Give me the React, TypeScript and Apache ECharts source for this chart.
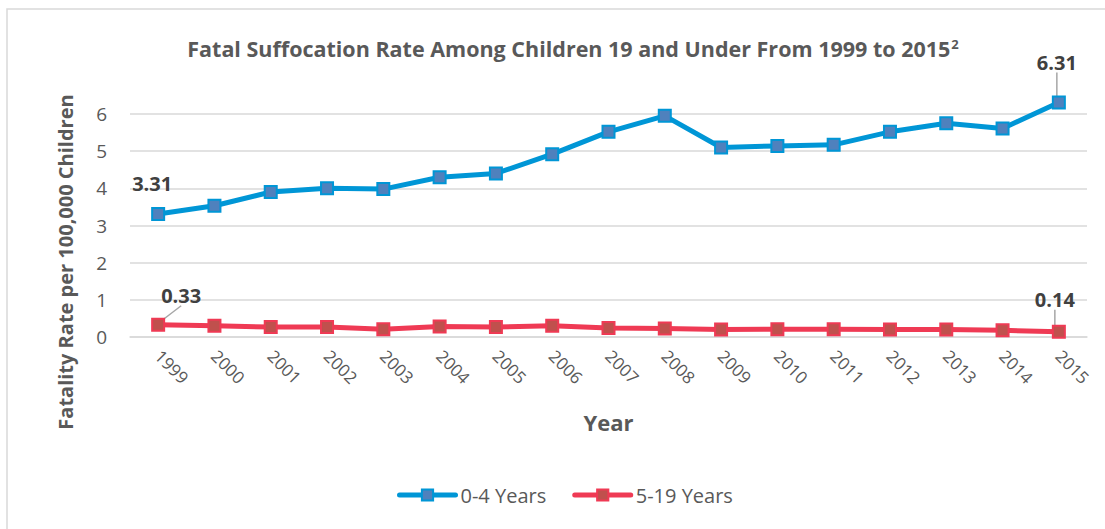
import React, { useEffect, useRef } from "react";
import * as echarts from "echarts";

const years = ["1999","2000","2001","2002","2003","2004","2005","2006","2007","2008","2009","2010","2011","2012","2013","2014","2015"];
const young = [3.31, 3.53, 3.90, 4.00, 3.98, 4.30, 4.40, 4.92, 5.52, 5.95, 5.10, 5.14, 5.17, 5.52, 5.75, 5.61, 6.31];
const older = [0.33, 0.30, 0.27, 0.27, 0.21, 0.28, 0.27, 0.30, 0.24, 0.23, 0.20, 0.21, 0.21, 0.20, 0.20, 0.18, 0.14];
const yTicks = { min: 0, max: 6, interval: 1 };
const seriesNames = ["0-4 Years", "5-19 Years"];
const titleText = "Fatal Suffocation Rate Among Children 19 and Under From 1999 to 2015";

const FONT = "'Open Sans', Lato, sans-serif";

function withEndLabels(vals: number[], hideFirstLine: boolean) {
  return vals.map((v, i) => {
    if (i === 0) return { value: v, label: { show: true }, labelLine: { show: !hideFirstLine } };
    if (i === vals.length - 1) return { value: v, label: { show: true } };
    return { value: v };
  });
}

export default function App() {
  const ref = useRef<HTMLDivElement>(null);
  useEffect(() => {
    if (!ref.current) return;
    const chart = echarts.init(ref.current, null, { renderer: "svg" });
    const moves: Record<string, [number, number]> = {
      "0-0": [-6, -8],
      "0-16": [-2, -18],
      "1-0": [23, -7],
      "1-16": [-4, -10],
    };
    const labelStyle = {
      show: false,
      position: "top",
      distance: 5,
      fontFamily: FONT,
      fontWeight: "bold",
      fontSize: 20,
      color: "#404040",
    };
    chart.setOption({
      animation: false,
      backgroundColor: "#fff",
      title: {
        text: "{t|" + titleText + "}{s|2}",
        left: 568,
        textAlign: "center",
        top: 32,
        textStyle: {
          rich: {
            t: { fontFamily: FONT, fontWeight: "bold", fontSize: 21.5, color: "#595959" },
            s: { fontFamily: FONT, fontWeight: "bold", fontSize: 13, color: "#595959", padding: [0, 0, 10, 1] },
          },
        },
      },
      graphic: [
        {
          type: "rect",
          shape: { x: 7, y: 9, width: 1110, height: 530 },
          style: { fill: "none", stroke: "#D9D9D9", lineWidth: 1.5 },
          silent: true,
          z: -1,
        },
        {
          type: "text",
          x: 65,
          y: 262,
          rotation: Math.PI / 2,
          style: {
            text: "Fatality Rate per 100,000 Children",
            fontFamily: FONT,
            fontWeight: "bold",
            fontSize: 20,
            fill: "#595959",
            align: "center",
            verticalAlign: "middle",
          },
        },
      ],
      legend: {
        bottom: 19,
        left: 392,
        itemWidth: 56,
        itemHeight: 14,
        itemGap: 26,
        textStyle: { fontFamily: FONT, fontSize: 20, color: "#595959" },
        lineStyle: { width: 5, cap: "round" },
        data: seriesNames,
      },
      grid: { left: 130, right: 18, top: 114, bottom: 192, containLabel: false },
      xAxis: {
        type: "category",
        data: years,
        boundaryGap: true,
        name: "Year",
        nameLocation: "middle",
        nameGap: 74,
        nameTextStyle: { fontFamily: FONT, fontWeight: "bold", fontSize: 22, color: "#595959" },
        axisLine: { show: true, lineStyle: { color: "#D9D9D9", width: 1.5 } },
        axisTick: { show: false },
        axisLabel: {
          rotate: -45,
          margin: 16,
          fontFamily: FONT,
          fontSize: 17,
          color: "#595959",
        },
      },
      yAxis: {
        type: "value",
        min: yTicks.min,
        max: yTicks.max,
        interval: yTicks.interval,
        axisLine: { show: false },
        axisTick: { show: false },
        splitLine: { lineStyle: { color: "#D9D9D9", width: 1.5 } },
        axisLabel: { margin: 23, fontFamily: FONT, fontSize: 19, color: "#595959" },
      },
      series: [
        {
          name: seriesNames[0],
          type: "line",
          data: withEndLabels(young, true),
          clip: false,
          symbol: "rect",
          symbolSize: 12,
          lineStyle: { color: "#0096D6", width: 5 },
          itemStyle: { color: "#4F81BD", borderColor: "#0096D6", borderWidth: 2 },
          label: labelStyle,
          labelLine: { show: true, lineStyle: { color: "#A6A6A6", width: 1.5 } },
          labelLayout: (p: any) => {
            const m = moves["0-" + p.dataIndex];
            return m ? { dx: m[0], dy: m[1] } : {};
          },
          z: 3,
        },
        {
          name: seriesNames[1],
          type: "line",
          data: withEndLabels(older, false),
          clip: false,
          symbol: "rect",
          symbolSize: 12,
          lineStyle: { color: "#EF3A54", width: 5 },
          itemStyle: { color: "#C0504D", borderColor: "#EF3A54", borderWidth: 2 },
          label: labelStyle,
          labelLine: { show: true, lineStyle: { color: "#A6A6A6", width: 1.5 } },
          labelLayout: (p: any) => {
            const m = moves["1-" + p.dataIndex];
            return m ? { dx: m[0], dy: m[1] } : {};
          },
          z: 2,
        },
      ],
    });
    return () => chart.dispose();
  }, []);
  return (
    <div
      ref={ref}
      style={{ position: "fixed", left: 0, top: 0, width: 1105, height: 529 }}
    />
  );
}
